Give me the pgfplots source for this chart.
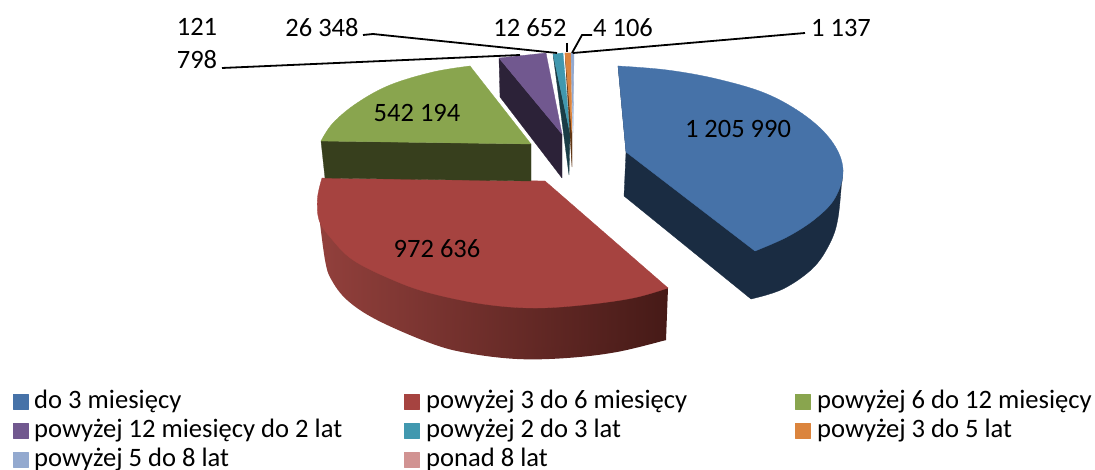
\documentclass[border=0pt]{standalone}
\usepackage{fontspec}
\setmainfont{Carlito}
\usepackage{pgfplots}
\pgfplotsset{compat=1.18}
\definecolor{cBlue}{HTML}{4672A8}
\definecolor{cBlueD}{HTML}{1A2C42}
\definecolor{cRed}{HTML}{A64340}
\definecolor{cRedL}{HTML}{92403C}
\definecolor{cRedM}{HTML}{6E2E2B}
\definecolor{cRedD}{HTML}{461A17}
\definecolor{cGreen}{HTML}{89A54E}
\definecolor{cGreenD}{HTML}{373F1D}
\definecolor{cPurple}{HTML}{71588F}
\definecolor{cPurpleD}{HTML}{2C2238}
\definecolor{cTeal}{HTML}{4198AF}
\definecolor{cTealD}{HTML}{1A3C46}
\definecolor{cOrange}{HTML}{DB843D}
\definecolor{cOrangeD}{HTML}{5E3514}
\definecolor{cPeri}{HTML}{93A9CF}
\definecolor{cPink}{HTML}{D19392}
\pgfplotsset{
  poly/.style={draw=#1,line width=0.3pt,fill=#1,no marks,line join=round},
  arcf/.style={draw=#1,line width=0.3pt,fill=#1,no marks,smooth,tension=0.6},
  redside/.style={draw=none,no marks,left color=cRedL,middle color=cRedM,right color=cRedD},
  lead/.style={draw=black,line width=1.8pt,no marks},
}
\newcommand{\lab}[3]{\node[font=\fontsize{26.5}{30}\selectfont,anchor=center,inner sep=0pt] at (axis cs:#1,#2) {#3};}
\newcommand{\leg}[3]{\node[font=\fontsize{26.6}{30}\selectfont,anchor=base west,inner sep=0pt] at (axis cs:#1,#2) {#3};}
\begin{document}
\begin{tikzpicture}
\begin{axis}[
  scale only axis, width=1095pt, height=470pt,
  xmin=0, xmax=1095, ymin=0, ymax=470, y dir=reverse,
  hide axis, clip=false,
]
% blue slice
\addplot[poly=cBlueD] coordinates {(618,66)(626,152)(624,196)(751,299)(790,270)(842,182)(843,170)(755,251)} --cycle;
\addplot[arcf=cBlueD] coordinates {(842,176)(838,218)(830,243)(813,268)(783,289)(751,299)};
\addplot[arcf=cBlue] coordinates {(618,66)(667,70)(717,79)(767,94)(807,117)(833,143)(843,170)(835,198)(815,219)(787,237)(755,251)};
\addplot[poly=cBlue] coordinates {(618,66)(780,150)(755,251)(626,152)} --cycle;
% red slice
\addplot[redside,smooth,tension=0.6] coordinates {(319,215)(325,260)(331,279)(347,300)(377,320)(430,343)(467,353)(517,359)(567,358)(617,352)(666,340)};
\addplot[redside] coordinates {(319,215)(500,350)(666,340)(668,288)} --cycle;
\addplot[arcf=cRed] coordinates {(668,288)(633,298)(583,305)(533,308)(483,304)(430,293)(393,280)(353,260)(330,237)(319,220)(317.5,198)(322,178)};
\addplot[poly=cRed] coordinates {(322,178)(545,181)(668,288)(500,290)} --cycle;
% green slice
\addplot[poly=cGreenD] coordinates {(321,141)(531,144)(531,181)(325,178)} --cycle;
\addplot[arcf=cGreen] coordinates {(321,141)(333,123)(357,103)(390,85)(433,72)(470,66)};
\addplot[poly=cGreen] coordinates {(321,141)(390,95)(470,66)(531,144)} --cycle;
% purple slice
\addplot[poly=cPurpleD] coordinates {(499,58)(562,134)(562,178)(500,97)} --cycle;
\addplot[poly=cPurple] coordinates {(499,58)(546,53)(562,134)} --cycle;
% teal slice
\addplot[poly=cTealD] coordinates {(553,54)(570,133)(569,175)} --cycle;
\addplot[poly=cTeal] coordinates {(553,54)(563,53)(570,133)} --cycle;
% orange slice
\addplot[poly=cOrangeD] coordinates {(565,53)(572,133)(572,167)} --cycle;
\addplot[poly=cOrange] coordinates {(565,53)(571,53)(572,133)} --cycle;
% periwinkle
\addplot[poly=cPeri] coordinates {(571,53)(574,53)(573,133)} --cycle;
% leader lines
\addplot[lead] coordinates {(222,68)(520,55)};
\addplot[lead] coordinates {(363,35)(373,34)(557,53)};
\addplot[lead] coordinates {(567,43)(567,52)};
\addplot[lead] coordinates {(592,35)(582,35)(572,53)};
\addplot[lead] coordinates {(573,53)(805,33)};
% value labels
\lab{738}{129}{1 205 990}
\lab{437}{249}{972 636}
\lab{417}{113}{542 194}
\lab{197}{27}{121}
\lab{197}{60}{798}
\lab{322}{28}{26 348}
\lab{530}{28}{12 652}
\lab{623}{28}{4 106}
\lab{841}{28}{1 137}
% legend
\addplot[poly=cBlue] coordinates {(13,394)(28,394)(28,409)(13,409)} --cycle;
\addplot[poly=cRed] coordinates {(404,394)(419,394)(419,409)(404,409)} --cycle;
\addplot[poly=cGreen] coordinates {(795,394)(810,394)(810,409)(795,409)} --cycle;
\addplot[poly=cPurple] coordinates {(13,423)(28,423)(28,438)(13,438)} --cycle;
\addplot[poly=cTeal] coordinates {(404,423)(419,423)(419,438)(404,438)} --cycle;
\addplot[poly=cOrange] coordinates {(795,423)(810,423)(810,438)(795,438)} --cycle;
\addplot[poly=cPeri] coordinates {(13,452)(28,452)(28,467)(13,467)} --cycle;
\addplot[poly=cPink] coordinates {(404,452)(419,452)(419,467)(404,467)} --cycle;
\leg{34}{408.5}{do 3 miesięcy}
\leg{426}{408.5}{powyżej 3 do 6 miesięcy}
\leg{817}{408.5}{powyżej 6 do 12 miesięcy}
\leg{34}{437.5}{powyżej 12 miesięcy do 2 lat}
\leg{426}{437.5}{powyżej 2 do 3 lat}
\leg{817}{437.5}{powyżej 3 do 5 lat}
\leg{34}{466.5}{powyżej 5 do 8 lat}
\leg{426}{466.5}{ponad 8 lat}
\end{axis}
\pgfresetboundingbox
\path[use as bounding box] (0,0) rectangle (1095pt,470pt);
\end{tikzpicture}
\end{document}
